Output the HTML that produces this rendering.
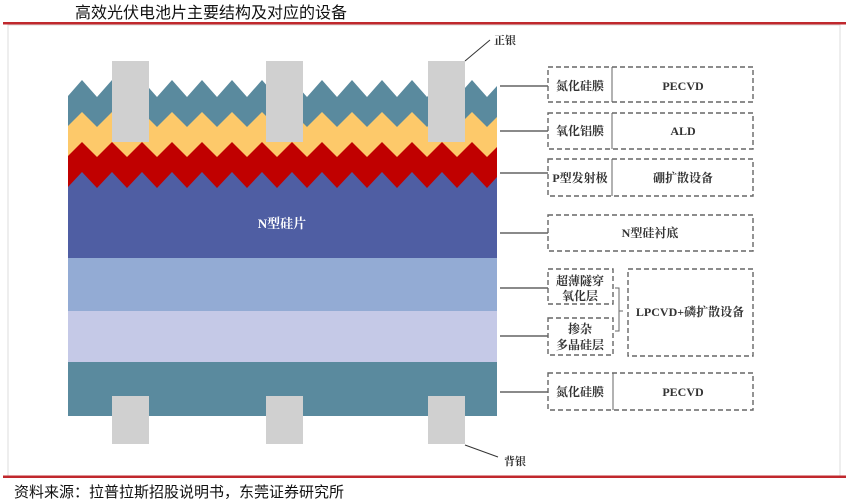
<!DOCTYPE html>
<html><head><meta charset="utf-8"><style>
html,body{margin:0;padding:0;background:#fff;}
svg{display:block;}
.t{font-family:"Liberation Serif","Noto Serif CJK SC",serif;font-weight:bold;font-size:12px;fill:#333;}
.h{font-family:"Liberation Sans","Noto Sans CJK SC",sans-serif;font-size:16px;fill:#111;}
</style></head><body>
<svg width="849" height="503" viewBox="0 0 849 503" xmlns="http://www.w3.org/2000/svg">
<defs><clipPath id="c"><rect x="68" y="0" width="429" height="503"/></clipPath></defs>
<text x="75" y="18" class="h">高效光伏电池片主要结构及对应的设备</text>
<rect x="8" y="25" width="832" height="451" fill="#fff" stroke="#ddd" stroke-width="1"/>
<rect x="3" y="22" width="843" height="2.5" fill="#c0282d"/>
<rect x="3" y="475.5" width="843" height="2.5" fill="#c0282d"/>
<text x="14" y="497" class="h" style="font-size:15px">资料来源：拉普拉斯招股说明书，东莞证券研究所</text>

<rect x="68" y="258" width="429" height="53" fill="#93abd4"/>
<rect x="68" y="311" width="429" height="52" fill="#c5c9e7"/>
<rect x="68" y="362" width="429" height="54" fill="#5a8a9e"/>
<g clip-path="url(#c)">
<path d="M68 96 L82 80 l15 17 l15 -17 l15 17 l15 -17 l15 17 l15 -17 l15 17 l15 -17 l15 17 l15 -17 l15 17 l15 -17 l15 17 l15 -17 l15 17 l15 -17 l15 17 l15 -17 l15 17 l15 -17 l15 17 l15 -17 l15 17 l15 -17 l15 17 l15 -17 l15 17 l10 -11 V258 H68Z" fill="#5a8a9e"/>
<path d="M68 126 L82 112 l15 15 l15 -15 l15 15 l15 -15 l15 15 l15 -15 l15 15 l15 -15 l15 15 l15 -15 l15 15 l15 -15 l15 15 l15 -15 l15 15 l15 -15 l15 15 l15 -15 l15 15 l15 -15 l15 15 l15 -15 l15 15 l15 -15 l15 15 l15 -15 l15 15 l10 -10 V258 H68Z" fill="#fdc96a"/>
<path d="M68 156 L82 142 l15 15 l15 -15 l15 15 l15 -15 l15 15 l15 -15 l15 15 l15 -15 l15 15 l15 -15 l15 15 l15 -15 l15 15 l15 -15 l15 15 l15 -15 l15 15 l15 -15 l15 15 l15 -15 l15 15 l15 -15 l15 15 l15 -15 l15 15 l15 -15 l15 15 l10 -10 V258 H68Z" fill="#c00000"/>
<path d="M68 187 L82 172 l15 16 l15 -16 l15 16 l15 -16 l15 16 l15 -16 l15 16 l15 -16 l15 16 l15 -16 l15 16 l15 -16 l15 16 l15 -16 l15 16 l15 -16 l15 16 l15 -16 l15 16 l15 -16 l15 16 l15 -16 l15 16 l15 -16 l15 16 l15 -16 l15 16 l10 -11 V258 H68Z" fill="#4f5ea3"/>
</g>
<text x="282" y="228" class="t" style="fill:#fff;font-size:13px" text-anchor="middle">N型硅片</text>

<g fill="#d0d0d0">
<rect x="112" y="61" width="37" height="81"/>
<rect x="266" y="61" width="37" height="81"/>
<rect x="428" y="61" width="37" height="81"/>
<rect x="112" y="396" width="37" height="48"/>
<rect x="266" y="396" width="37" height="48"/>
<rect x="428" y="396" width="37" height="48"/>
</g>
<line x1="465" y1="61" x2="490" y2="40" stroke="#333" stroke-width="1"/>
<text x="494" y="44" class="t" style="font-size:11px">正银</text>
<line x1="465" y1="445" x2="498" y2="457" stroke="#333" stroke-width="1"/>
<text x="504" y="465" class="t" style="font-size:11px">背银</text>

<g stroke="#444" stroke-width="1.2">
<line x1="500" y1="86" x2="548" y2="86"/>
<line x1="500" y1="131" x2="548" y2="131"/>
<line x1="500" y1="173" x2="548" y2="173"/>
<line x1="500" y1="233" x2="548" y2="233"/>
<line x1="500" y1="288" x2="548" y2="288"/>
<line x1="500" y1="336" x2="548" y2="336"/>
<line x1="500" y1="392" x2="548" y2="392"/>
</g>
<g fill="none" stroke="#666" stroke-width="1.4" stroke-dasharray="5,3">
<rect x="548" y="67" width="205" height="35"/>
<rect x="548" y="113" width="205" height="36"/>
<rect x="548" y="159" width="205" height="37"/>
<rect x="548" y="215" width="205" height="36"/>
<rect x="548" y="269" width="65" height="35"/>
<rect x="548" y="318" width="65" height="37"/>
<rect x="628" y="269" width="125" height="87"/>
<rect x="548" y="373" width="205" height="37"/>
</g>
<g stroke="#666" stroke-width="1">
<line x1="612" y1="67" x2="612" y2="102"/>
<line x1="612" y1="113" x2="612" y2="149"/>
<line x1="612" y1="159" x2="612" y2="196"/>
<line x1="613" y1="373" x2="613" y2="410"/>
</g>
<path d="M615 288 h4 v23 h4 M615 331 h4 v-20" fill="none" stroke="#666" stroke-width="1"/>

<text x="580" y="90" class="t" text-anchor="middle">氮化硅膜</text>
<text x="683" y="90" class="t" text-anchor="middle">PECVD</text>
<text x="580" y="135" class="t" text-anchor="middle">氧化铝膜</text>
<text x="683" y="135" class="t" text-anchor="middle">ALD</text>
<text x="580" y="182" class="t" text-anchor="middle">P型发射极</text>
<text x="683" y="182" class="t" text-anchor="middle">硼扩散设备</text>
<text x="650" y="237" class="t" text-anchor="middle">N型硅衬底</text>
<text x="580" y="285" class="t" text-anchor="middle">超薄隧穿</text>
<text x="580" y="300" class="t" text-anchor="middle">氧化层</text>
<text x="580" y="333" class="t" text-anchor="middle">掺杂</text>
<text x="580" y="349" class="t" text-anchor="middle">多晶硅层</text>
<text x="690" y="316" class="t" text-anchor="middle">LPCVD+磷扩散设备</text>
<text x="580" y="396" class="t" text-anchor="middle">氮化硅膜</text>
<text x="683" y="396" class="t" text-anchor="middle">PECVD</text>
</svg>
</body></html>
